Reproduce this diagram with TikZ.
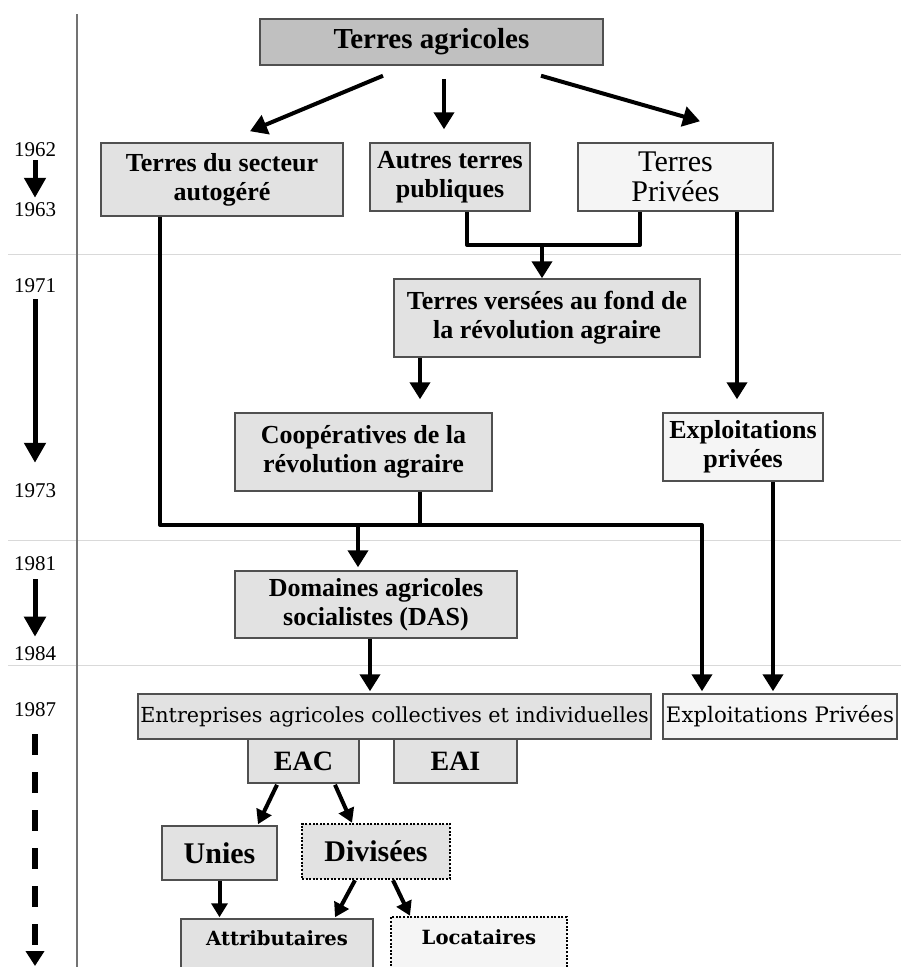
\documentclass[tikz,border=0pt]{standalone}
\usepackage{fontspec}
\setmainfont{Liberation Serif}
\newfontfamily\slabfont{DejaVu Serif}
\usepackage{tikz}
\usetikzlibrary{arrows.meta, calc}
\definecolor{boxdark}{RGB}{192,192,192}
\definecolor{boxgray}{RGB}{226,226,226}
\definecolor{boxwhite}{RGB}{245,245,245}
\definecolor{boxline}{RGB}{80,80,80}

\begin{document}
\begin{tikzpicture}[x=1pt, y=-1pt,
  box/.style={draw=boxline, line width=1.5pt, fill=boxgray, inner sep=0pt, align=center, font=\bfseries\fontsize{26}{29}\selectfont},
  darkbox/.style={box, fill=boxdark},
  lightbox/.style={box, fill=boxwhite},
  dotbox/.style={box, draw=black, line width=2.5pt, dash pattern=on 2pt off 1.6pt},
  slab/.style={font=\slabfont\fontsize{20.7}{21}\selectfont},
  conn/.style={line width=4pt, line join=round},
  arr/.style={conn, -{Triangle[width=20pt,length=17pt]}},
  sarr/.style={conn, -{Triangle[width=16pt,length=14pt]}},
  year/.style={font=\fontsize{21}{21}\selectfont, inner sep=1pt},
  yarr/.style={line width=5pt, -{Triangle[width=21pt,length=20pt]}},
  sep/.style={black!15, line width=1pt}]
  \useasboundingbox (0,0) rectangle (901,967);
  \clip (0,0) rectangle (901,967);

  % Periods
  \foreach \y in {254,540,665} \draw[sep] (8,\y) -- (901,\y);
  \draw[black!55, line width=1.5pt] (77,14) -- (77,967);
  \foreach \yr/\ypos in {1962/150, 1963/210, 1971/286, 1973/491, 1981/564, 1984/654, 1987/710}
    \node[year] (y\yr) at (35,\ypos) {\yr};
  \draw[yarr] ($(y1962.south)+(0,2)$) -- ($(y1963.north)+(0,-4)$);
  \draw[yarr] ($(y1971.south)+(0,5)$) -- ($(y1973.north)+(0,-20)$);
  \draw[yarr] ($(y1981.south)+(0,7)$) -- ($(y1984.north)+(0,-9)$);
  \coordinate (yend) at (35,966);
  \draw[line width=6pt, dash pattern=on 21pt off 17pt, -{Triangle[width=18pt,length=15pt]}] ($(y1987.south)+(0,16)$) -- (yend);

  % Boxes
  \node[darkbox, minimum width=343pt, minimum height=46pt, font=\bfseries\fontsize{29}{30}\selectfont] (agri) at (431.5,42) {Terres agricoles};
  \node[box, minimum width=242pt, minimum height=73pt] (autog) at (222,179.5) {Terres du secteur\\autogéré};
  \node[box, minimum width=160pt, minimum height=68pt] (autres) at (450,177) {Autres terres\\publiques};
  \node[lightbox, minimum width=195pt, minimum height=68pt, font=\fontsize{30}{30}\selectfont] (tprivees) at (675.5,177) {Terres\\Privées};
  \node[box, minimum width=306pt, minimum height=78pt] (versees) at (547,318) {Terres versées au fond de\\la révolution agraire};
  \node[box, minimum width=257pt, minimum height=78pt] (coop) at (363.5,452) {Coopératives de la\\révolution agraire};
  \node[lightbox, minimum width=160pt, minimum height=68pt] (exppriv) at (743,447) {Exploitations\\privées};
  \node[box, minimum width=282pt, minimum height=67pt] (das) at (376,604.5) {Domaines agricoles\\socialistes (DAS)};
  \node[box, slab, minimum width=513pt, minimum height=45pt] (entr) at (394.5,716.5) {Entreprises agricoles collectives et individuelles};
  \node[lightbox, slab, minimum width=234pt, minimum height=45pt, font=\slabfont\fontsize{21.3}{22}\selectfont] (exppriv2) at (780,716.5) {Exploitations Privées};
  \node[box, minimum width=111pt, minimum height=44pt, font=\bfseries\fontsize{28}{28}\selectfont] (eac) at (303.5,761) {EAC};
  \node[box, minimum width=123pt, minimum height=44pt, font=\bfseries\fontsize{28}{28}\selectfont] (eai) at (455.5,761) {EAI};
  \node[box, minimum width=115pt, minimum height=54pt, font=\bfseries\fontsize{30}{30}\selectfont] (unies) at (219.5,853) {Unies};
  \node[dotbox, minimum width=148pt, minimum height=55pt, font=\bfseries\fontsize{30}{30}\selectfont] (divis) at (376,851.5) {Divisées};
  \node[box, minimum width=192pt, minimum height=56pt, font=\slabfont\bfseries\fontsize{19.6}{20}\selectfont, text depth=17pt] (attrib) at (277,947) {Attributaires};
  \node[dotbox, fill=boxwhite, minimum width=176pt, minimum height=58pt, font=\slabfont\bfseries\fontsize{19.6}{20}\selectfont, text depth=17pt] (locat) at (479,946) {Locataires};

  % 1962-1963
  \draw[arr] ($(agri.south)+(-48.5,10)$) -- ($(autog.north)+(28,-11)$);
  \draw[arr] ($(agri.south)+(12.5,13)$) -- ($(autres.north)+(-6,-13)$);
  \draw[arr] ($(agri.south)+(109.5,10)$) -- ($(tprivees.north)+(24.5,-21)$);

  % 1971-1973
  \coordinate (merge) at (542,245);
  \draw[conn] ($(autres.south)+(17,0)$) |- (merge) -| ($(tprivees.south)+(-35.5,0)$);
  \draw[arr] (merge) -- (merge |- versees.north);
  \draw[arr] ($(tprivees.south)+(61.5,0)$) -- ($(exppriv.north)+(-6,-13)$);
  \draw[arr] ($(versees.south)+(-127,0)$) -- ($(coop.north)+(56.5,-13)$);

  % 1981-1987
  \coordinate (bus) at (358,525);
  \draw[arr] ($(autog.south)+(-62,0)$) |- (bus) -| ($(exppriv2.north)+(-78,-2)$);
  \draw[conn] ($(coop.south)+(56.5,0)$) |- (bus);
  \draw[arr] (bus) -- ($(bus |- das.north)+(0,-3)$);
  \draw[arr] ($(exppriv.south)+(30,0)$) -- ($(exppriv2.north)+(-7,-2)$);
  \draw[arr] ($(das.south)+(-6,0)$) -- ($(entr.north)+(-24.5,-2)$);

  % EAC
  \draw[sarr] ($(eac.south)+(-26.5,1)$) -- ($(unies.north)+(38.5,-1)$);
  \draw[sarr] ($(eac.south)+(31.5,1)$) -- ($(divis.north)+(-24,0)$);
  \draw[sarr] (unies.south) -- ($(attrib.north)+(-57.5,-1)$);
  \draw[sarr] ($(divis.south)+(-21,0)$) -- ($(attrib.north)+(58,-1)$);
  \draw[sarr] ($(divis.south)+(17,0)$) -- ($(locat.north)+(-69,0)$);
\end{tikzpicture}
\end{document}
